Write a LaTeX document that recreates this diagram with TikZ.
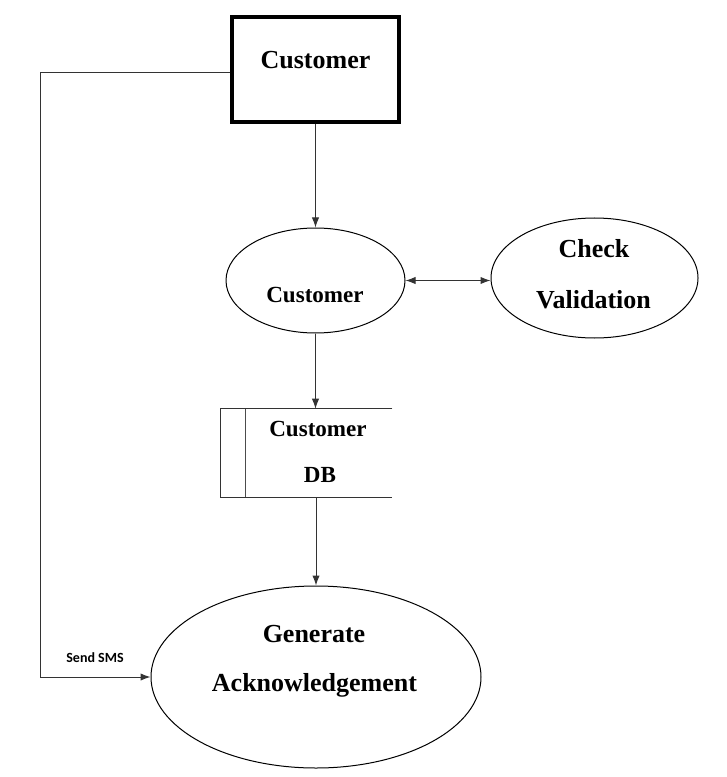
\documentclass[tikz,border=0pt]{standalone}
\usepackage{fontspec}
\setmainfont{Liberation Serif}
\newfontfamily\calfont{Carlito}
\usetikzlibrary{shapes.geometric,arrows.meta}
\begin{document}
\begin{tikzpicture}[x=0.75pt,y=-0.75pt,
  conn/.style={draw=black!80,line width=0.75pt},
  arr/.style={-{Latex[length=7.5pt,width=5.5pt]}},
  ell/.style={ellipse,draw=black,line width=0.75pt,inner sep=0pt},
  big/.style={font=\fontsize{19.5}{23}\selectfont\bfseries,anchor=base,inner sep=0pt},
  mid/.style={font=\fontsize{17.3}{21}\selectfont\bfseries,anchor=base,inner sep=0pt},
  lbl/.style={font=\fontsize{10.5}{12}\calfont\bfseries,anchor=base,inner sep=0pt}]
\useasboundingbox (0,0) rectangle (727,777);
% entity
\node[draw=black,line width=2.3pt,minimum width=167*0.75pt,minimum height=105*0.75pt,inner sep=0pt] (cust) at (315.5,69.5) {};
\node[big] (custt) at (315.5,69) {Customer};
% process ellipse customer
\node[ell,minimum width=179*0.75pt,minimum height=105*0.75pt] (ce) at (315.5,280.5) {};
\node[mid] (cet) at (315,302) {Customer};
% check validation
\node[ell,minimum width=207*0.75pt,minimum height=120*0.75pt] (cv) at (594.5,278) {};
\node[big] (cvt1) at (594,257) {Check};
\node[big] (cvt2) at (593.5,308) {Validation};
% data store
\node[minimum width=171*0.75pt,minimum height=88*0.75pt,inner sep=0pt] (db) at (306.5,453) {};
\draw[black!80,line width=0.75pt] (db.north east) -- (db.north west) -- (db.south west) -- (db.south east);
\coordinate (dbl1) at (245,409);
\coordinate (dbl2) at (245,497);
\draw[black!70,line width=0.75pt] (dbl1) -- (dbl2);
\node[mid] (dbt1) at (318,436) {Customer};
\node[mid] (dbt2) at (320,482) {DB};
% generate acknowledgement
\node[ell,minimum width=330*0.75pt,minimum height=182*0.75pt] (ge) at (316,677) {};
\node[big] (get1) at (314,642) {Generate};
\node[big] (get2) at (314.5,691) {Acknowledgement};
% connectors
\draw[conn,arr] (cust.south) -- (ce.north);
\draw[conn,{Latex[length=7.5pt,width=5.5pt]}-{Latex[length=7.5pt,width=5.5pt]}] (ce.east) -- (cv.west |- ce.east);
\draw[conn,arr] (ce.south) -- (ce.south |- db.north);
\draw[conn,arr] (ge.north |- db.south) -- (ge.north);
\coordinate (corner) at (40,677);
\draw[conn,arr] ([yshift=-2pt]cust.west) -| (corner) -- (ge.west);
\node[lbl] (sms) at (95,662) {Send SMS};
\end{tikzpicture}
\end{document}
